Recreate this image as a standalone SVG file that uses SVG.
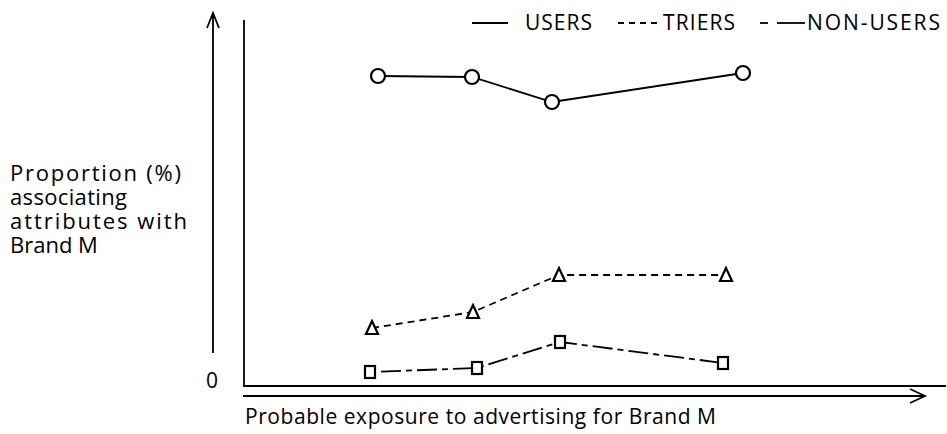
<svg xmlns="http://www.w3.org/2000/svg" width="947" height="434" viewBox="0 0 947 434">
<defs>
<style>
text{font-family:"Open Sans","Noto Sans","Liberation Sans",sans-serif;fill:#000}
.lbl{font-size:21px}
.yl{font-size:22px}
.leg{font-size:21px}
.ax{stroke:#000;stroke-width:1.8;fill:none}
.users{stroke:#000;stroke-width:1.8;fill:none}
.triers{stroke:#000;stroke-width:1.8;fill:none;stroke-dasharray:7 5}
.non{stroke:#000;stroke-width:1.8;fill:none;stroke-dasharray:6 5 20 5}
.mk{stroke:#000;stroke-width:2.2;fill:#fff}
</style>
</defs>
<rect width="947" height="434" fill="#fff"/>
<g id="axes">
<path class="ax" d="M244,20 V386 H946"/>
<path class="ax" d="M213,353 V14 M207,28 L213,13 L219,28"/>
<path class="ax" d="M243,396 H924 M910,389 L925,396 L910,403"/>
<text class="lbl" x="206" y="388">0</text>
</g>
<g id="ylabel">
<text class="yl" x="10" y="181" textLength="171" lengthAdjust="spacing">Proportion (%)</text>
<text class="yl" x="10" y="205" textLength="117" lengthAdjust="spacing">associating</text>
<text class="yl" x="10" y="229" textLength="177" lengthAdjust="spacing">attributes with</text>
<text class="yl" x="10" y="253">Brand M</text>
</g>
<text id="xlabel" class="lbl" x="245" y="424" textLength="471" lengthAdjust="spacing">Probable exposure to advertising for Brand M</text>
<g id="legend">
<line class="users" x1="472" y1="23" x2="508" y2="23"/>
<text class="leg" x="525" y="30" textLength="67" lengthAdjust="spacing">USERS</text>
<line class="triers" x1="618" y1="23" x2="660" y2="23" style="stroke-dasharray:6 5"/>
<text class="leg" x="663" y="30" textLength="72" lengthAdjust="spacing">TRIERS</text>
<line class="users" x1="760" y1="23" x2="768" y2="23"/>
<line class="users" x1="777" y1="23" x2="805" y2="23"/>
<text class="leg" x="807" y="30" textLength="133" lengthAdjust="spacing">NON-USERS</text>
</g>
<g id="connectors">
<polyline class="users" points="378,76 472,77 552,102 743,73"/>
<polyline class="triers" points="372,328 473,312 559,275 726,275"/>
<polyline class="non" points="370,372 477,368 560,342 723,363"/>
</g>
<g id="users-points">
<circle class="mk" cx="378" cy="76" r="7"/>
<circle class="mk" cx="472" cy="77" r="7"/>
<circle class="mk" cx="552" cy="102" r="7"/>
<circle class="mk" cx="743" cy="73" r="7"/>
</g>
<g id="triers-points">
<polygon class="mk" points="372,321 366,334 378,334"/>
<polygon class="mk" points="473,305 467,318 479,318"/>
<polygon class="mk" points="559,268 553,281 565,281"/>
<polygon class="mk" points="726,268 720,281 732,281"/>
</g>
<g id="nonusers-points">
<rect class="mk" x="365" y="366" width="10" height="12"/>
<rect class="mk" x="472" y="362" width="10" height="12"/>
<rect class="mk" x="555" y="336" width="10" height="12"/>
<rect class="mk" x="718" y="357" width="10" height="12"/>
</g>
</svg>
